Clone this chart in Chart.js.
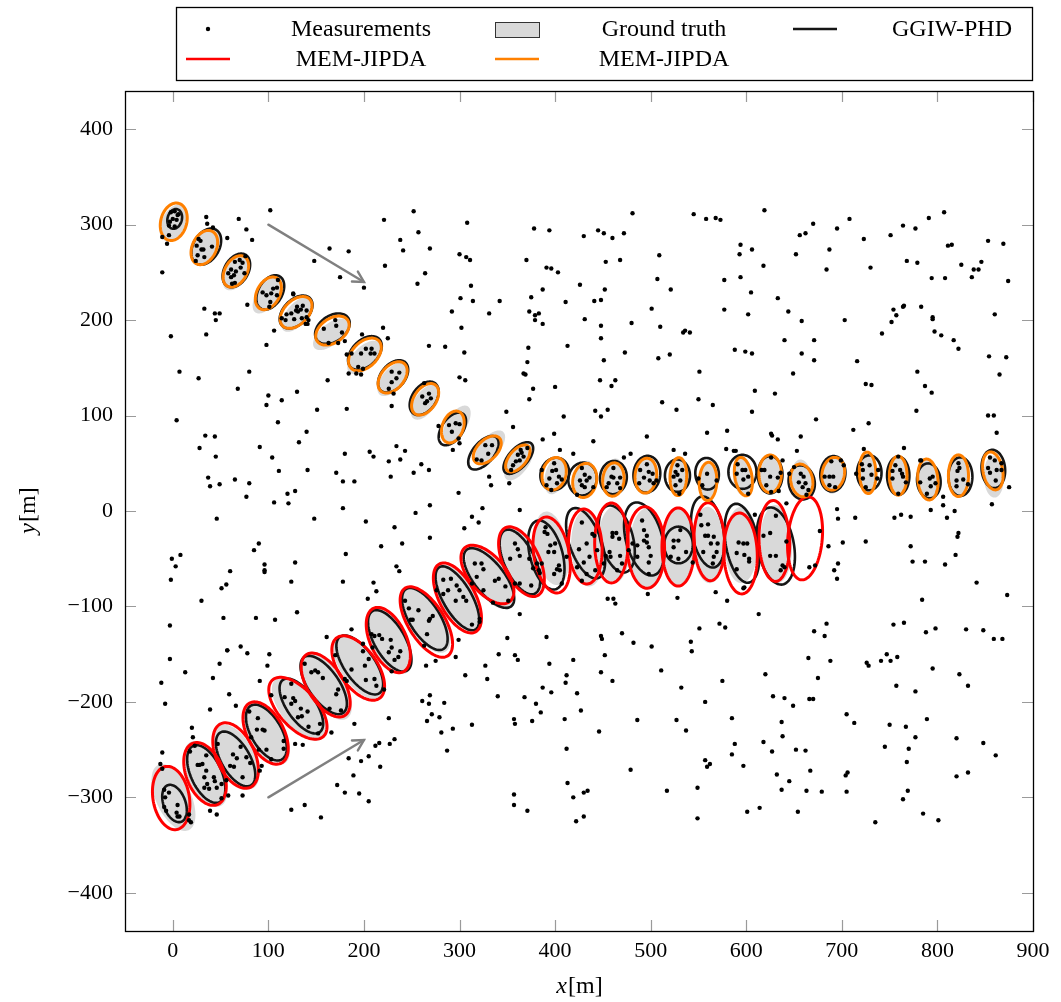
<!DOCTYPE html>
<html>
<head>
<meta charset="utf-8">
<script src="https://cdn.jsdelivr.net/npm/chart.js@4.4.0/dist/chart.umd.min.js"></script>
<style>
  body { margin: 0; background: #fff; }
  canvas { display: block; }
</style>
</head>
<body>
<canvas id="tracks" width="1061" height="1002"></canvas>
<script>
// axis ranges and tick values
const xTickValues = [0, 100, 200, 300, 400, 500, 600, 700, 800, 900];
const yTickValues = [-400, -300, -200, -100, 0, 100, 200, 300, 400];

// clutter measurements [x, y]
const clutter = [
  [102,315],[35,308],[36,301],[42,297],[69,306],[77,295],[83,284],[57,286],[-11,287],[-4,289],[-6,280],[-11,250],
  [148,262],[164,275],[184,272],[175,245],[200,234],[221,305],[252,314],[257,292],[238,284],[241,273],[222,257],
  [256,238],[264,249],[33,212],[44,207],[49,207],[45,200],[35,185],[-2,183],[98,174],[106,189],[78,216],[126,228],
  [220,192],[225,181],[198,185],[182,164],[268,173],
  [308,302],[269,275],[300,269],[307,266],[311,263],[370,263],[378,296],[394,294],[430,288],[445,294],[451,291],
  [460,286],[472,291],[481,312],[453,261],[468,263],[509,268],[545,311],[558,306],[568,307],[573,305],[391,255],
  [396,254],[403,250],[312,236],[301,223],[314,220],[342,220],[292,209],[331,207],[302,192],[285,172],[305,166],
  [375,224],[387,232],[373,209],[379,205],[383,207],[379,200],[387,196],[411,219],[426,237],[452,232],[441,220],
  [448,221],[431,201],[448,194],[448,181],[413,173],[372,171],[371,156],[451,158],[473,166],[480,197],[501,212],
  [507,243],[521,232],[510,193],[534,187],[536,189],[541,187],[508,160],[520,164],[577,242],[577,211],[588,169],
  [619,315],[594,279],[593,269],[606,274],[618,257],[594,245],[605,229],[633,223],[602,206],[644,209],[658,199],
  [640,179],[599,167],[606,165],[658,165],[671,179],[671,158],[716,157],[652,269],[656,289],[662,291],[670,301],
  [687,274],[684,253],[695,296],[708,306],[723,285],[730,255],[703,200],[751,289],[764,299],[777,296],[791,307],
  [807,313],[811,278],[815,279],[768,262],[779,260],[794,244],[808,244],[825,258],[836,245],[838,253],[843,253],
  [846,261],[853,283],[869,280],[874,241],[754,211],[764,214],[765,215],[757,205],[752,198],[783,214],[795,203],
  [795,201],[797,188],[804,184],[817,179],[822,170],[742,186],[854,162],[872,161],[860,206],
  [7,146],[27,139],[80,146],[68,128],[100,121],[98,111],[114,116],[130,125],[162,137],[151,106],[182,107],[4,95],
  [110,93],[34,79],[44,78],[140,83],[28,66],[45,57],[91,67],[104,56],[132,72],[111,42],[141,43],[37,35],[39,26],
  [49,28],[65,33],[80,29],[77,15],[120,18],[128,21],[106,9],[121,8],[180,60],[171,40],[178,31],[190,31],[206,62],
  [210,57],[226,52],[228,36],[234,68],[238,54],[243,63],[260,49],[268,43],[252,40],[254,-2],[269,6],[178,3],
  [148,-8],[46,-8],[202,-11],[232,-17],[269,-28],[218,-37],[240,-34],[181,-45],[90,-34],[85,-41],[128,-54],[96,-56],
  [96,-62],[96,-64],[60,-63],[-1,-50],[8,-46],[3,-58],[-2,-72],[56,-77],[51,-81],[124,-74],[178,-74],[210,-75],
  [213,-84],[204,-92],[234,-58],[237,-63],[30,-94],[130,-106],[53,-112],[87,-112],[107,-114],[-3,-120],[161,-132],
  [187,-124],[71,-142],[57,-146],[229,110],
  [300,140],[306,137],[367,144],[369,143],[400,130],[377,128],[373,117],[447,137],[459,131],[463,137],[512,114],
  [527,106],[550,117],[565,111],[551,146],[349,104],[356,88],[409,99],[442,105],[455,106],[448,99],[399,81],[387,75],
  [440,73],[496,78],[559,82],[580,84],[579,65],[587,63],[524,64],[536,60],[472,56],[479,60],[419,60],[405,64],
  [386,43],[331,36],[333,27],[352,29],[299,19],[324,3],[363,1],[313,-6],[320,-12],[305,-18],[568,-85],[528,-91],
  [455,-92],[461,-92],[463,-97],[497,-87],[580,-94],[363,-108],[350,-133],[391,-132],[448,-131],[449,-134],
  [470,-128],[482,-138],[501,-142],[542,-137],[551,-123],[572,-118],[578,-122],[299,-135],
  [649,144],[609,126],[630,123],[606,104],[673,96],[725,133],[731,132],[779,146],[787,131],[794,124],[778,105],
  [728,92],[712,85],[865,143],[853,100],[859,100],[862,82],[626,81],[627,79],[633,75],[657,78],[653,63],[723,65],
  [765,66],[783,53],[875,25],[857,7],[806,15],[806,6],[818,0],[810,-7],[793,1],[695,2],[696,-8],[714,-7],[755,-7],
  [762,-4],[772,-6],[822,-23],[821,-27],[819,-46],[808,-56],[787,-53],[774,-53],[772,-37],[725,-32],[701,-33],
  [686,-37],[696,-55],[692,-62],[695,-71],[841,-75],[784,-93],[873,-88],[613,-108],[684,-118],[671,-126],[682,-131],
  [754,-119],[765,-117],[788,-127],[798,-123],[830,-124],[848,-125],[859,-134],[868,-134],[642,8],[609,-4],
  [672,-57],[666,-59],[677,-21],[598,-80],[589,63],
  [-3,-155],[-12,-180],[-8,-202],[13,-169],[42,-175],[49,-160],[57,-146],[78,-149],[101,-150],[99,-162],[91,-178],
  [59,-192],[66,-204],[39,-208],[20,-227],[21,-237],[-11,-253],[-13,-265],[39,-314],[46,-318],[58,-298],[73,-298],
  [124,-313],[138,-308],[155,-321],[172,-287],[180,-295],[195,-296],[205,-304],[189,-277],[184,-259],[197,-262],
  [205,-257],[217,-268],[212,-246],[216,-243],[227,-244],[232,-239],[226,-217],[190,-223],[166,-232],[128,-244],
  [136,-245],[261,-199],[268,-202],[266,-220],[265,-162],[269,-193],
  [296,-153],[275,-157],[341,-150],[358,-151],[361,-156],[327,-162],[329,-176],[306,-172],[394,-160],[419,-156],
  [412,-172],[411,-180],[452,-151],[448,-169],[460,-178],[387,-185],[396,-190],[423,-191],[284,-201],[271,-213],
  [279,-216],[281,-232],[293,-228],[287,-251],[313,-224],[340,-194],[368,-195],[380,-202],[385,-211],[376,-220],
  [357,-218],[358,-223],[410,-218],[427,-209],[412,-249],[446,-231],[486,-219],[511,-167],[532,-185],[543,-147],
  [575,-178],[557,-200],[527,-219],[537,-230],[585,-217],[588,-244],[585,-255],[557,-261],[562,-265],[559,-268],
  [479,-271],[413,-285],[434,-293],[430,-295],[419,-300],[357,-297],[357,-308],[371,-314],[422,-325],[430,-320],
  [517,-293],[549,-290],[549,-322],
  [665,-154],[688,-157],[726,-159],[728,-162],[741,-157],[747,-150],[751,-157],[758,-153],[795,-165],[823,-171],
  [832,-183],[757,-183],[777,-189],[620,-171],[675,-175],[628,-194],[640,-196],[649,-204],[666,-197],[670,-197],
  [637,-221],[638,-236],[618,-242],[627,-252],[597,-267],[652,-250],[662,-251],[667,-272],[632,-276],[645,-283],
  [637,-292],[663,-293],[679,-294],[705,-213],[713,-222],[704,-277],[706,-274],[705,-294],[601,-315],[614,-311],
  [654,-315],[735,-326],[750,-224],[767,-226],[789,-218],[777,-237],[745,-247],[770,-249],[768,-263],[820,-238],
  [848,-243],[861,-256],[820,-278],[832,-274],[769,-293],[764,-302],[785,-317],[801,-324]
];

// measurements from the target moving down and to the right
const upperTargetMeas = [
  [-2,313],[2,314],[5,310],[0,306],[-3,303],[-4,299],[2,298],[6,311],[4,305],
  [27,285],[25,278],[30,274],[32,274],[41,277],[26,268],[33,266],[24,262],[29,283],
  [65,261],[70,263],[73,260],[76,267],[61,253],[66,251],[71,255],[58,249],[61,245],[64,247],[65,239],[62,238],[75,249],
  [94,229],[98,226],[105,233],[109,234],[103,228],[109,226],[101,214],[102,219],[110,242],
  [126,227],[130,214],[129,210],[131,209],[134,211],[140,210],[124,207],[119,206],[114,202],[118,200],[127,201],
  [135,202],[140,203],[142,200],[139,196],[136,215],[141,196],
  [158,191],[171,194],[177,187],[163,176],[173,176],[180,178],[170,200],
  [197,165],[202,170],[208,170],[211,165],[207,165],[187,165],[194,151],[199,149],[184,144],[192,144],[197,143],
  [229,146],[237,145],[231,123],[226,128],[229,135],[234,139],
  [263,134],[266,115],[264,113],[268,123],[261,120],[270,118],
  [278,89],[289,90],[296,92],[300,91],[292,83],[299,76],[300,71],[293,64],
  [327,69],[334,69],[318,54],[323,53],[330,60],
  [364,64],[371,66],[361,59],[365,61],[363,53],[359,52],[354,43],[356,48],[367,57],
  [399,50],[401,43],[397,42],[394,34],[404,36],[407,33],[402,29],[391,27],[396,22],
  [428,45],[431,38],[426,32],[433,32],[428,27],[431,25],[423,17],[436,35],[440,25],
  [461,45],[459,36],[461,35],[468,35],[456,29],[465,29],[454,25],[468,24],
  [496,49],[489,43],[498,41],[502,39],[493,35],[499,32],[488,29],[503,29],[506,32],
  [526,41],[528,38],[524,36],[533,43],[531,32],[526,27],[530,18],[528,48],
  [559,39],[550,34],[569,32],[554,27],
  [591,49],[596,43],[599,43],[602,36],[597,33],[590,39],[602,18],
  [626,56],[638,53],[616,43],[619,43],[625,36],[633,35],[636,40],[621,27],[626,20],[634,21],
  [650,46],[657,39],[660,36],[655,30],[662,29],[659,25],[665,22],[663,17],[645,39],
  [689,52],[699,53],[702,48],[682,36],[687,36],[691,36],[687,27],[693,25],
  [721,49],[729,48],[722,43],[738,43],[731,38],[737,34],[722,34],[725,25],[715,39],
  [759,57],[756,48],[761,43],[753,42],[763,39],[753,34],[767,30],[759,18],[764,36],
  [782,53],[795,36],[792,34],[782,30],[793,26],[789,18],[798,29],
  [823,45],[821,42],[822,50],[820,32],[827,33],[832,28],[820,26],
  [855,56],[860,53],[867,50],[853,45],[862,43],[855,40],[867,43],[861,32]
];

// measurements from the target moving up and to the right
const lowerTargetMeas = [
  [-11,-270],[-9,-292],[-4,-295],[-8,-300],[5,-308],[-9,-310],[-7,-314],[4,-316],[5,-320],[17,-318],[19,-326],[17,-324],[7,-320],
  [23,-246],[26,-266],[28,-266],[31,-265],[35,-272],[33,-279],[43,-279],[44,-283],[36,-286],[33,-290],[38,-291],
  [46,-290],[51,-301],[18,-252],[35,-256],[51,-286],
  [47,-244],[63,-255],[71,-247],[67,-259],[60,-267],[64,-268],[77,-258],[81,-264],[93,-267],[91,-272],[73,-279],[56,-282],
  [80,-210],[89,-217],[88,-229],[94,-229],[96,-230],[82,-237],[90,-250],[98,-250],[103,-260],[116,-241],[116,-249],[103,-193],
  [124,-181],[117,-195],[126,-196],[128,-199],[124,-202],[134,-207],[131,-216],[141,-210],[142,-226],[154,-223],[135,-215],[152,-233],
  [138,-160],[145,-169],[149,-167],[152,-169],[157,-175],[173,-187],[171,-192],[164,-207],[176,-209],[182,-178],
  [170,-151],[187,-166],[201,-162],[202,-177],[211,-176],[213,-183],[221,-187],[199,-147],[205,-155],[180,-176],
  [229,-168],[232,-156],[236,-153],[238,-147],[226,-148],[208,-129],[211,-131],[216,-130],[219,-134],[228,-135],
  [229,-143],[209,-143],[199,-139],
  [243,-94],[247,-102],[257,-104],[249,-114],[251,-114],[268,-115],[266,-129],[263,-141],
  [283,-72],[291,-71],[276,-83],[283,-87],[288,-83],[297,-78],[300,-83],[304,-90],[307,-94],[296,-94],[313,-119],
  [321,-116],[269,-113],[272,-110],
  [316,-55],[323,-55],[325,-61],[313,-76],[325,-83],[337,-73],[341,-71],[335,-96],[318,-69],[351,-94],[348,-79],[321,-113],
  [358,-34],[361,-40],[353,-50],[363,-47],[373,-50],[358,-76],[363,-76],[375,-78],[383,-62],[381,-55],[377,-60],[384,-65],
  [390,-17],[389,-22],[392,-24],[395,-36],[400,-34],[393,-43],[386,-55],[399,-43],[404,-57],[399,-66],[402,-61],
  [405,-62],[412,-48],[407,-76],
  [428,-12],[439,-24],[441,-26],[433,-34],[425,-40],[444,-41],[436,-48],[430,-54],[423,-59],[442,-62],[433,-66],[428,-73],
  [460,-23],[464,-23],[460,-27],[467,-29],[457,-43],[453,-47],[468,-47],[458,-48],[470,-55],[465,-62],[451,-55],[477,-41],
  [491,-10],[493,-20],[496,-26],[493,-31],[496,-33],[486,-36],[498,-38],[500,-47],[486,-48],[498,-54],[498,-66],[481,-34],
  [524,-31],[529,-31],[524,-38],[537,-43],[529,-50],[544,-54],[521,-48],[531,-20],
  [552,-4],[560,-14],[553,-15],[557,-26],[560,-26],[566,-27],[563,-34],[555,-43],[570,-34],[569,-43],[566,-48],[565,-55],
  [592,-33],[597,-34],[601,-34],[590,-44],[598,-46],[603,-50],[603,-53],[590,-61],[597,-81],
  [631,-5],[625,-23],[618,-26],[642,-32],[625,-47],[631,-47],[638,-57],[640,-59],[636,-62]
];

// extent ellipses: [centre x, centre y, semi-major, semi-minor, major-axis angle in degrees]
const truthUpper = [
  [1,302,21,12.5,62],[34,276,21,12,60],[67,250,21,11.5,58],[99,226,22,11,55],[130,206,22,11,50],[165,185,22,11,40],
  [200,161,22,11,45],[230,138,21,11,50],[264,114,21,11,55],[297,91,22,10.5,58],[332,67,21,10.5,50],[362,51,22,10.5,55],
  [400,37,20,10.5,75],[431,33,20,10.5,80],[462,35,20,10.5,85],[496,37,20,10.5,88],[529,37,20,10.5,90],[560,31,20,10,90],
  [596,37,21,10,95],[625,37,20,10.5,90],[658,33,21,11,95],[691,38,20,10.5,85],[727,39,21,10,90],[759,36,20,10,90],
  [791,33,21,10.5,92],[822,36,21,10.5,90],[859,36,22,10.5,92]
];
const truthLower = [
  [0.7,-300.2,37.7,18.3,115],[34.3,-275.5,37,18.5,115],[66.7,-257.7,37,18.5,118],[98.2,-232.6,37,18.5,120],
  [132,-207.5,39.5,18.5,128],[161,-183.5,40,18.5,122],[194.5,-163.5,39,18.5,125],[226.5,-136.2,38,18,118],
  [264.8,-114.2,39,18,122],[298.3,-91.1,39,18,120],[331.8,-69.1,38,18,122],[365.3,-51.3,38,18,115],
  [396.4,-39.1,39,17.2,100],[434,-39.1,40,17.2,93],[461.7,-35.6,40,17.2,90],[496,-39.8,42.5,18.3,90],
  [528.8,-37.7,40.9,17.2,90],[560.5,-35.6,40,16.5,92],[594.8,-35.6,40,17.2,90],[631.4,-34.6,40.9,16.5,92]
];
const ggiwUpper = [
  [2,306,10.5,7.5,75],[35,277,20.4,13.6,60],[66.5,252,19,12.5,60],[102,229,19.5,12.5,60],[129,208.5,20.5,13,45],
  [167,191,20,13.5,35],[201,165.5,21,13.5,45],[230.5,141,19.5,12.5,50],[263,118,19.5,12.5,55],[292.5,86,19.4,11,55],
  [325,61,21,11,50],[361.5,55.5,20.4,10,48],[399.6,38.8,17.3,14.7,70],[428.7,33.5,17.3,14.7,80],[461,35,17.4,14,85],
  [496,38.5,19.3,14,85],[528,37,17,13.1,90],[559,39,16.6,12.3,95],[596,41,17.8,14.7,90],[625,38,19.6,12.9,90],
  [658,30,18,13.6,100],[690.6,39,18.6,13.1,85],[728.7,40,18.3,12.8,90],[759,37,20.1,11.7,90],[791,31.6,18.3,12.3,95],
  [824,36,20.2,12.6,90],[858.5,44,20.1,12.3,95]
];
const ggiwLower = [
  [1.8,-306.4,20.4,11.5,110],[35,-275.5,32.5,16,115],[65.7,-259.8,32,15,120],[97.9,-232.1,32.5,16,120],
  [134.5,-204.3,33.5,15,125],[157.9,-182.3,35.6,16,125],[195.6,-161.3,36,16,125],[227,-136,36,16,120],
  [263.7,-113.1,37,16,122],[297.8,-91.5,37.7,15,120],[330.8,-70.2,37.7,16,128],[363.2,-53.4,36.7,16,115],
  [390.8,-46.1,37.2,17,105],[431.9,-33.8,38.8,16.5,110],[464.5,-29.3,36.1,17,105],[493.1,-29.3,39.3,19,105],
  [529.1,-35.6,19.2,15,90],[559.7,-22,37.7,16.5,100],[595.5,-33.8,41.9,17,100],[630.9,-36.7,40.9,19,100]
];
const memUpper = [
  [1,303,20,13.6,75],[33,276,18.9,12.6,65],[66,251,17.8,11.5,60],[100,228,18.3,12,62],[129,208,19.9,12.6,45],
  [167,189,19.4,12.6,35],[201,164,20.4,13.1,45],[230,140,18.9,12,50],[264,117,18.5,11.5,55],[293,88,17.3,11,70],
  [329,64,17.8,10.5,45],[361,55,16.8,8.9,50],[399,39,17.3,12.3,75],[431,32,18,12.4,80],[461,33,17.5,11.1,85],
  [495,37,18.3,11.3,85],[529,36,19.9,8.7,88],[560,31,20.1,9.2,88],[597,36,20.4,8.9,100],[625,39,19.7,11.8,90],
  [658,32,17.3,11.5,100],[691,39,17.3,11.7,80],[727,40,21.7,8.7,92],[759,37,20.4,9.2,90],[790,33,21.5,10.5,95],
  [822,37,21.8,10.5,90],[858,42,20.1,10.3,100]
];
const memLower = [
  [-1.7,-300.7,33.5,19,100],[33.7,-275.5,34.6,19.5,112],[65.7,-256.2,36.7,20,115],[97.1,-232.6,35.6,19,118],
  [130.9,-206.7,39.8,19.9,132],[160,-182.3,37.7,18.9,122],[194,-164.5,38.8,19.9,125],[225.5,-135.2,36.7,18.9,115],
  [265.3,-116.3,41.9,19,122],[297.8,-91.1,40.3,18.8,118],[329.2,-66.5,36.7,19,130],[364.8,-53.1,39.3,19,115],
  [396.4,-46.1,40.3,18.5,100],[431.6,-37.2,39.3,17.5,93],[458.9,-33.5,41.9,17.5,90],[495,-38.2,42.7,19.5,92],
  [528.8,-37.7,40.9,17,90],[561.3,-32.2,40.9,16,92],[594,-44.5,42.4,17.5,92],[629.4,-31.4,42.4,16,92],
  [661.5,-28.6,43.7,18,85]
];

// direction-of-motion arrows
const arrowTails = [[100, 300], [100, -300]];
const arrowTips = [[200, 240], [200, -240]];

const SERIF = '"Liberation Serif", "DejaVu Serif", serif';
const GRAY_FILL = '#d9d9d9';

function traceEllipse(ctx, xs, ys, e) {
  const [cx, cy, a, b, deg] = e;
  const r = deg * Math.PI / 180, c = Math.cos(r), s = Math.sin(r);
  ctx.beginPath();
  for (let i = 0; i <= 96; i++) {
    const t = i / 96 * 2 * Math.PI;
    const u = a * Math.cos(t), v = b * Math.sin(t);
    const px = xs.getPixelForValue(cx + u * c - v * s);
    const py = ys.getPixelForValue(cy + u * s + v * c);
    if (i === 0) ctx.moveTo(px, py); else ctx.lineTo(px, py);
  }
  ctx.closePath();
}

const ellipsePlugin = {
  id: 'ellipses',
  beforeDatasetsDraw(chart) {
    const ctx = chart.ctx, xs = chart.scales.x, ys = chart.scales.y;
    ctx.save();
    ctx.fillStyle = GRAY_FILL;
    truthUpper.concat(truthLower).forEach(e => { traceEllipse(ctx, xs, ys, e); ctx.fill(); });
    const strokeSet = (list, color, w) => {
      ctx.strokeStyle = color; ctx.lineWidth = w;
      list.forEach(e => { traceEllipse(ctx, xs, ys, e); ctx.stroke(); });
    };
    strokeSet(ggiwUpper.concat(ggiwLower), '#151515', 2.6);
    strokeSet(memLower, '#ff0000', 3);
    strokeSet(memUpper, '#ff8000', 3);

    // arrows
    ctx.strokeStyle = '#808080'; ctx.lineWidth = 2.4; ctx.lineCap = 'round';
    arrowTails.forEach((t, i) => {
      const x0 = xs.getPixelForValue(t[0]), y0 = ys.getPixelForValue(t[1]);
      const x1 = xs.getPixelForValue(arrowTips[i][0]), y1 = ys.getPixelForValue(arrowTips[i][1]);
      const ang = Math.atan2(y1 - y0, x1 - x0);
      ctx.beginPath(); ctx.moveTo(x0, y0); ctx.lineTo(x1, y1); ctx.stroke();
      ctx.beginPath();
      ctx.moveTo(x1 - 12 * Math.cos(ang - 0.5), y1 - 12 * Math.sin(ang - 0.5));
      ctx.lineTo(x1, y1);
      ctx.lineTo(x1 - 12 * Math.cos(ang + 0.5), y1 - 12 * Math.sin(ang + 0.5));
      ctx.stroke();
    });
    ctx.restore();
  }
};

const framePlugin = {
  id: 'frame',
  afterDraw(chart) {
    const ctx = chart.ctx, a = chart.chartArea, xs = chart.scales.x, ys = chart.scales.y;
    ctx.save();
    // inward tick marks on all four sides
    ctx.strokeStyle = '#9a9a9a'; ctx.lineWidth = 1.2;
    const len = 11;
    xTickValues.forEach(v => {
      const px = Math.round(xs.getPixelForValue(v)) + 0.5;
      ctx.beginPath();
      ctx.moveTo(px, a.bottom); ctx.lineTo(px, a.bottom - len);
      ctx.moveTo(px, a.top); ctx.lineTo(px, a.top + len);
      ctx.stroke();
    });
    yTickValues.forEach(v => {
      const py = Math.round(ys.getPixelForValue(v)) + 0.5;
      ctx.beginPath();
      ctx.moveTo(a.left, py); ctx.lineTo(a.left + len, py);
      ctx.moveTo(a.right, py); ctx.lineTo(a.right - len, py);
      ctx.stroke();
    });
    ctx.strokeStyle = '#000'; ctx.lineWidth = 1.3;
    ctx.strokeRect(a.left + 0.5, a.top + 0.5, a.right - a.left, a.bottom - a.top);

    // axis titles with italic variable names
    const label = (varName, cx, cy, rot) => {
      ctx.save();
      ctx.translate(cx, cy); ctx.rotate(rot);
      ctx.textBaseline = 'middle'; ctx.fillStyle = '#000';
      ctx.font = 'italic 24px ' + SERIF;
      const w1 = ctx.measureText(varName).width;
      ctx.font = '24px ' + SERIF;
      const w2 = ctx.measureText('[m]').width;
      let x = -(w1 + w2) / 2;
      ctx.textAlign = 'left';
      ctx.font = 'italic 24px ' + SERIF; ctx.fillText(varName, x, 0);
      ctx.font = '24px ' + SERIF; ctx.fillText('[m]', x + w1 + 1, 0);
      ctx.restore();
    };
    label('x', (a.left + a.right) / 2, 987, 0);
    label('y', 29, (a.top + a.bottom) / 2, -Math.PI / 2);

    // legend box
    ctx.strokeStyle = '#000'; ctx.lineWidth = 1.3;
    ctx.strokeRect(176.5, 7.5, 856, 73);
    ctx.font = '24px ' + SERIF; ctx.fillStyle = '#000';
    ctx.textAlign = 'center'; ctx.textBaseline = 'middle';
    const r1 = 29, r2 = 59;
    ctx.beginPath(); ctx.arc(208, r1, 2.2, 0, 2 * Math.PI); ctx.fill();
    ctx.fillText('Measurements', 361, r1 + 1);
    ctx.fillStyle = GRAY_FILL; ctx.fillRect(495.5, 22.5, 44, 15);
    ctx.strokeStyle = '#333'; ctx.lineWidth = 1; ctx.strokeRect(495.5, 22.5, 44, 15);
    ctx.fillStyle = '#000';
    ctx.fillText('Ground truth', 664, r1 + 1);
    const seg = (x0, y, color) => {
      ctx.strokeStyle = color; ctx.lineWidth = 2.6;
      ctx.beginPath(); ctx.moveTo(x0, y); ctx.lineTo(x0 + 44, y); ctx.stroke();
    };
    seg(793, r1, '#151515');
    ctx.fillText('GGIW-PHD', 952, r1 + 1);
    seg(186, r2, '#ff0000');
    ctx.fillText('MEM-JIPDA', 361, r2 + 1);
    seg(495, r2, '#ff8000');
    ctx.fillText('MEM-JIPDA', 664, r2 + 1);
    ctx.restore();
  }
};

const fmt = v => (v < 0 ? '\u2212' + Math.abs(v) : String(v));

new Chart(document.getElementById('tracks'), {
  type: 'scatter',
  data: {
    datasets: [{
      label: 'Measurements',
      data: clutter.concat(upperTargetMeas, lowerTargetMeas).map(p => ({ x: p[0], y: p[1] })),
      pointRadius: 2.2,
      pointBackgroundColor: '#000',
      pointBorderWidth: 0,
      pointHoverRadius: 2.2
    }]
  },
  options: {
    responsive: false,
    animation: false,
    events: [],
    layout: { padding: { top: 91, right: 28, left: 0, bottom: 0 } },
    plugins: { legend: { display: false }, tooltip: { enabled: false } },
    scales: {
      x: {
        type: 'linear', min: -50, max: 900,
        grid: { display: false, drawTicks: false },
        border: { display: false },
        afterBuildTicks: s => { s.ticks = xTickValues.map(v => ({ value: v })); },
        afterFit: s => { s.height = 71; },
        ticks: {
          padding: 7, maxRotation: 0, autoSkip: false, color: '#000',
          font: { family: SERIF, size: 22 }, callback: fmt
        }
      },
      y: {
        type: 'linear', min: -440, max: 440,
        grid: { display: false, drawTicks: false },
        border: { display: false },
        afterBuildTicks: s => { s.ticks = yTickValues.map(v => ({ value: v })); },
        afterFit: s => { s.width = 125; },
        ticks: {
          padding: 12, autoSkip: false, color: '#000',
          font: { family: SERIF, size: 22 }, callback: fmt
        }
      }
    }
  },
  plugins: [ellipsePlugin, framePlugin]
});
</script>
</body>
</html>
